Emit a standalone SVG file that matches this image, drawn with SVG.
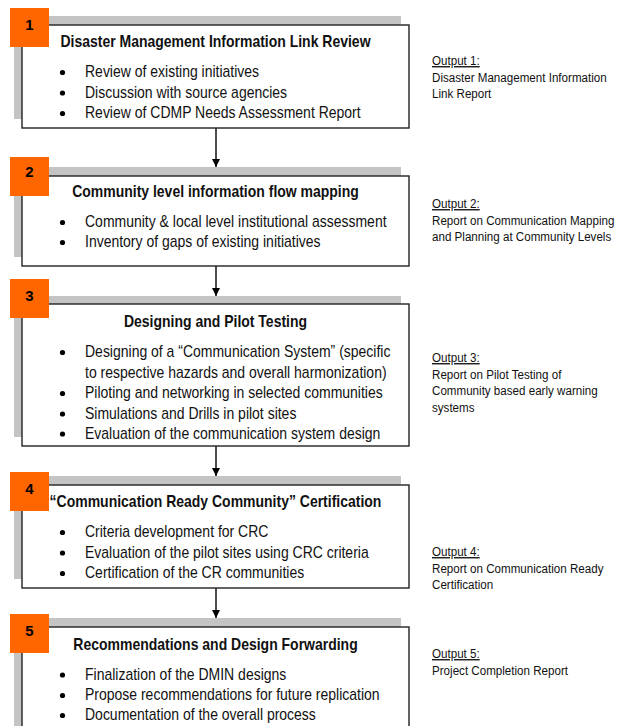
<svg xmlns="http://www.w3.org/2000/svg" width="624" height="726" viewBox="0 0 624 726">
  <style>
    .shadow { fill: #c4c4c4; }
    .box { fill: #ffffff; stroke: #222222; stroke-width: 1.4; }
    .badge { fill: #ff6600; }
    .num { font-family: "Liberation Sans", Arial, sans-serif; font-weight: bold; font-size: 15px; fill: #000; text-anchor: middle; }
    /* box texts are set condensed: 16px glyphs squeezed to 87.5% width */
    .title { font-family: "Liberation Sans", Arial, sans-serif; font-weight: bold; font-size: 16px; fill: #111; text-anchor: middle; }
    .item { font-family: "Liberation Sans", Arial, sans-serif; font-size: 16px; fill: #111; }
    .dot { fill: #000; }
    /* output notes: 13.5px squeezed to 86% width */
    .out { font-family: "Liberation Sans", Arial, sans-serif; font-size: 13.5px; fill: #111; }
    .head { text-decoration: underline; }
    .link { stroke: #000; stroke-width: 1.4; fill: none; marker-end: url(#arrow); }
  </style>
  <defs>
    <marker id="arrow" viewBox="0 0 8 8" refX="8" refY="4" markerWidth="8" markerHeight="8" markerUnits="userSpaceOnUse" orient="auto">
      <path d="M0,0 L8,4 L0,8 Z" fill="#000"/>
    </marker>
  </defs>

  <!-- connectors between the stages -->
  <g id="connectors">
    <line class="link" x1="216" y1="128" x2="216" y2="167"/>
    <line class="link" x1="216" y1="266" x2="216" y2="296"/>
    <line class="link" x1="216" y1="446" x2="216" y2="476"/>
    <line class="link" x1="216" y1="588" x2="216" y2="618"/>
  </g>

  <!-- stage 1 -->
  <g id="stage1">
    <rect class="shadow" x="14" y="16" width="387" height="103"/>
    <rect class="box" x="22" y="25" width="387" height="103"/>
    <rect class="badge" x="10" y="8" width="39" height="39"/>
    <text class="num" x="29.5" y="30">1</text>
    <text class="title" transform="matrix(0.875 0 0 1 215.5 46.5)">Disaster Management Information Link Review</text>
    <circle class="dot" cx="62.5" cy="72.5" r="2.6"/>
    <text class="item" transform="matrix(0.875 0 0 1 85 77)">Review of existing initiatives</text>
    <circle class="dot" cx="62.5" cy="93" r="2.6"/>
    <text class="item" transform="matrix(0.875 0 0 1 85 97.5)">Discussion with source agencies</text>
    <circle class="dot" cx="62.5" cy="113.5" r="2.6"/>
    <text class="item" transform="matrix(0.875 0 0 1 85 118)">Review of CDMP Needs Assessment Report</text>
  </g>

  <!-- stage 2 -->
  <g id="stage2">
    <rect class="shadow" x="14" y="167" width="387" height="90"/>
    <rect class="box" x="22" y="176" width="387" height="90"/>
    <rect class="badge" x="10" y="157" width="39" height="39"/>
    <text class="num" x="29.5" y="177">2</text>
    <text class="title" transform="matrix(0.875 0 0 1 215.5 196.5)">Community level information flow mapping</text>
    <circle class="dot" cx="62.5" cy="222.5" r="2.6"/>
    <text class="item" transform="matrix(0.875 0 0 1 85 227)">Community &amp; local level institutional assessment</text>
    <circle class="dot" cx="62.5" cy="242.5" r="2.6"/>
    <text class="item" transform="matrix(0.875 0 0 1 85 247)">Inventory of gaps of existing initiatives</text>
  </g>

  <!-- stage 3 -->
  <g id="stage3">
    <rect class="shadow" x="14" y="296" width="387" height="141"/>
    <rect class="box" x="22" y="304" width="387" height="142"/>
    <rect class="badge" x="10" y="279" width="39" height="39"/>
    <text class="num" x="29.5" y="300.5">3</text>
    <text class="title" transform="matrix(0.875 0 0 1 215.5 326.5)">Designing and Pilot Testing</text>
    <circle class="dot" cx="62.5" cy="352.5" r="2.6"/>
    <text class="item" transform="matrix(0.875 0 0 1 85 357)">Designing of a “Communication System” (specific</text>
    <text class="item" transform="matrix(0.875 0 0 1 85 377.5)">to respective hazards and overall harmonization)</text>
    <circle class="dot" cx="62.5" cy="393.5" r="2.6"/>
    <text class="item" transform="matrix(0.875 0 0 1 85 398)">Piloting and networking in selected communities</text>
    <circle class="dot" cx="62.5" cy="414" r="2.6"/>
    <text class="item" transform="matrix(0.875 0 0 1 85 418.5)">Simulations and Drills in pilot sites</text>
    <circle class="dot" cx="62.5" cy="434" r="2.6"/>
    <text class="item" transform="matrix(0.875 0 0 1 85 438.5)">Evaluation of the communication system design</text>
  </g>

  <!-- stage 4 -->
  <g id="stage4">
    <rect class="shadow" x="14" y="476" width="387" height="103"/>
    <rect class="box" x="22" y="485" width="387" height="103"/>
    <rect class="badge" x="10" y="472" width="39" height="39"/>
    <text class="num" x="29.5" y="493.5">4</text>
    <text class="title" transform="matrix(0.875 0 0 1 215.5 506.5)">“Communication Ready Community” Certification</text>
    <circle class="dot" cx="62.5" cy="532.5" r="2.6"/>
    <text class="item" transform="matrix(0.875 0 0 1 85 537)">Criteria development for CRC</text>
    <circle class="dot" cx="62.5" cy="553" r="2.6"/>
    <text class="item" transform="matrix(0.875 0 0 1 85 557.5)">Evaluation of the pilot sites using CRC criteria</text>
    <circle class="dot" cx="62.5" cy="573.5" r="2.6"/>
    <text class="item" transform="matrix(0.875 0 0 1 85 578)">Certification of the CR communities</text>
  </g>

  <!-- stage 5 -->
  <g id="stage5">
    <rect class="shadow" x="14" y="618" width="387" height="120"/>
    <rect class="box" x="22" y="627" width="387" height="120"/>
    <rect class="badge" x="10" y="614" width="39" height="39"/>
    <text class="num" x="29.5" y="636">5</text>
    <text class="title" transform="matrix(0.875 0 0 1 215.5 650)">Recommendations and Design Forwarding</text>
    <circle class="dot" cx="62.5" cy="675" r="2.6"/>
    <text class="item" transform="matrix(0.875 0 0 1 85 679.5)">Finalization of the DMIN designs</text>
    <circle class="dot" cx="62.5" cy="695.5" r="2.6"/>
    <text class="item" transform="matrix(0.875 0 0 1 85 700)">Propose recommendations for future replication</text>
    <circle class="dot" cx="62.5" cy="715.5" r="2.6"/>
    <text class="item" transform="matrix(0.875 0 0 1 85 720)">Documentation of the overall process</text>
  </g>

  <!-- outputs of each stage -->
  <g id="output1">
    <text class="out head" transform="matrix(0.86 0 0 1 432 65)">Output 1:</text>
    <text class="out" transform="matrix(0.86 0 0 1 432 81.5)">Disaster Management Information</text>
    <text class="out" transform="matrix(0.86 0 0 1 432 98)">Link Report</text>
  </g>
  <g id="output2">
    <text class="out head" transform="matrix(0.86 0 0 1 432 208)">Output 2:</text>
    <text class="out" transform="matrix(0.86 0 0 1 432 224.5)">Report on Communication Mapping</text>
    <text class="out" transform="matrix(0.86 0 0 1 432 241)">and Planning at Community Levels</text>
  </g>
  <g id="output3">
    <text class="out head" transform="matrix(0.86 0 0 1 432 362)">Output 3:</text>
    <text class="out" transform="matrix(0.86 0 0 1 432 378.5)">Report on Pilot Testing of</text>
    <text class="out" transform="matrix(0.86 0 0 1 432 395)">Community based early warning</text>
    <text class="out" transform="matrix(0.86 0 0 1 432 411.5)">systems</text>
  </g>
  <g id="output4">
    <text class="out head" transform="matrix(0.86 0 0 1 432 556)">Output 4:</text>
    <text class="out" transform="matrix(0.86 0 0 1 432 572.5)">Report on Communication Ready</text>
    <text class="out" transform="matrix(0.86 0 0 1 432 589)">Certification</text>
  </g>
  <g id="output5">
    <text class="out head" transform="matrix(0.86 0 0 1 432 658)">Output 5:</text>
    <text class="out" transform="matrix(0.86 0 0 1 432 674.5)">Project Completion Report</text>
  </g>
</svg>
